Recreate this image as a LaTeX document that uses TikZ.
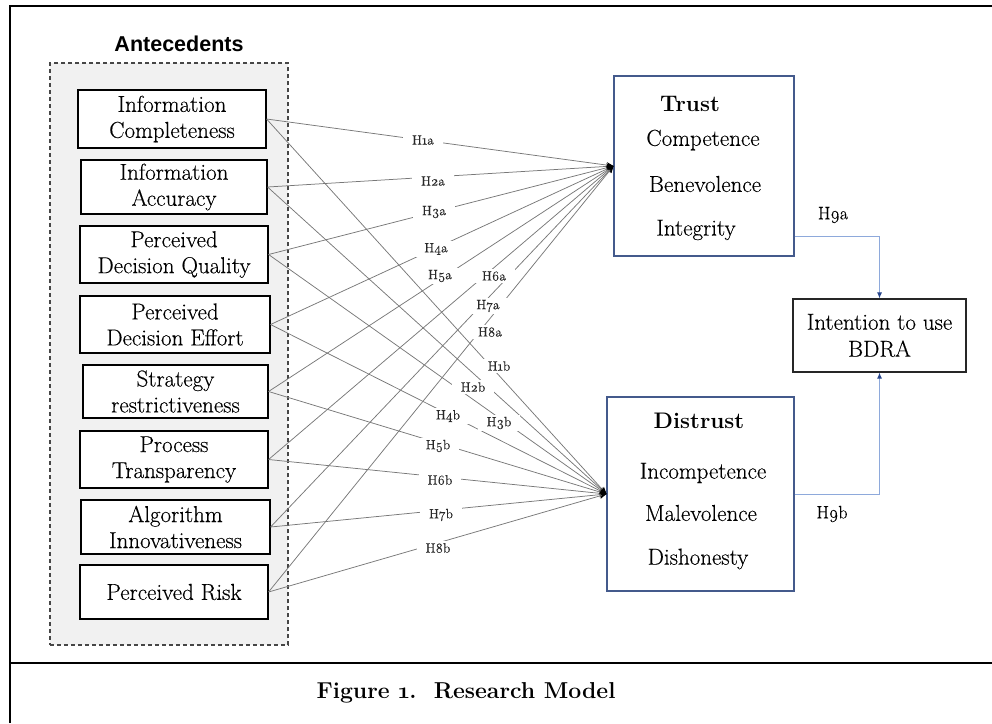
\documentclass[tikz,border=0pt]{standalone}
\usepackage{fontspec}
\setmainfont{Latin Modern Roman}[Numbers=OldStyle]
\newfontfamily\rmdark{Latin Modern Roman}[Numbers=OldStyle, FakeBold=0.3]
\newfontfamily\headsans{Liberation Sans}
\usetikzlibrary{arrows.meta,calc}
\definecolor{lineg}{RGB}{120,120,120}
\definecolor{boxblue}{RGB}{68,90,140}
\definecolor{lblue}{RGB}{142,169,219}
\definecolor{navyt}{RGB}{40,70,140}
\definecolor{dashfill}{RGB}{241,241,241}
\definecolor{dashline}{RGB}{70,70,70}
\tikzset{
  abox/.style={draw=black, line width=1.1pt, fill=white, align=center,
    font=\rmdark\fontsize{23}{26}\selectfont, inner sep=0pt},
  bigbox/.style={draw=boxblue, line width=1.1pt, fill=white, inner sep=0pt},
  conn/.style={draw=lineg, line width=0.75pt, -{Stealth[length=7pt,width=6pt,black]}},
  hlbl/.style={fill=white, inner xsep=9pt, inner ysep=2pt,
    font=\rmdark\fontsize{13.5}{15}\selectfont, text={rgb,255:red,40;green,40;blue,40}},
  intxt/.style={font=\rmdark\fontsize{23}{26}\selectfont, inner sep=0pt},
  inhead/.style={font=\bfseries\fontsize{22.5}{26}\selectfont, inner sep=0pt},
  h9/.style={draw=lblue, line width=1pt, -{Latex[length=6pt,width=5pt,navyt]}},
  h9lbl/.style={font=\rmdark\fontsize{18}{20}\selectfont, inner sep=0pt},
  frameline/.style={line width=2.4pt, black}
}
\begin{document}
\begin{tikzpicture}[x=1pt,y=-1pt]
\useasboundingbox (0,0) rectangle (992,723);
% outer frame
\draw[frameline] (10,723) -- (10,6) -- (992,6);
\draw[frameline] (10,663) -- (992,663);
\node[font=\bfseries\fontsize{23}{26}\selectfont] (cap) at (466,693) {Figure 1.\ \ Research Model};
% antecedents group
\node[font=\headsans\bfseries\fontsize{21.5}{24}\selectfont] (ante) at (179,44) {Antecedents};
\node[draw=dashline, dashed, dash pattern=on 4pt off 3pt, line width=1.1pt, fill=dashfill,
  minimum width=238pt, minimum height=582pt, inner sep=0pt] (grp) at (169,354) {};
\node[abox, minimum width=188pt, minimum height=58pt] (a1) at (172,119) {Information\\Completeness};
\node[abox, minimum width=186pt, minimum height=54pt] (a2) at (174,187) {Information\\Accuracy};
\node[abox, minimum width=188pt, minimum height=57pt] (a3) at (174,254.5) {Perceived\\Decision Quality};
\node[abox, minimum width=190pt, minimum height=57pt] (a4) at (175,324.5) {Perceived\\Decision Effort};
\node[abox, minimum width=185pt, minimum height=53pt] (a5) at (175.5,391.5) {Strategy\\restrictiveness};
\node[abox, minimum width=188pt, minimum height=57pt] (a6) at (174,459.5) {Process\\Transparency};
\node[abox, minimum width=189pt, minimum height=54pt] (a7) at (175.5,527) {Algorithm\\Innovativeness};
\node[abox, minimum width=188pt, minimum height=54pt] (a8) at (174,592) {Perceived Risk};
% trust / distrust
\node[bigbox, minimum width=180pt, minimum height=180pt] (trust) at (704,166) {};
\node[inhead] (t0) at (690,104) {Trust};
\node[intxt] (t1) at (703,140) {Competence};
\node[intxt] (t2) at (705,184) {Benevolence};
\node[intxt] (t3) at (696,230) {Integrity};
\node[bigbox, minimum width=187pt, minimum height=194pt] (dist) at (700.5,494) {};
\node[inhead] (d0) at (699,421) {Distrust};
\node[intxt] (d1) at (703,473) {Incompetence};
\node[intxt] (d2) at (701,513) {Malevolence};
\node[intxt] (d3) at (698,559) {Dishonesty};
% intention
\node[draw=black!85, line width=1.1pt, minimum width=173pt, minimum height=73pt, align=center,
  font=\rmdark\fontsize{23}{27}\selectfont, inner sep=0pt] (intent) at (879.5,335.5) {Intention to use\\BDRA};
% connectors to trust
\draw[conn] (a1.east) -- (trust.west);
\draw[conn] (a2.east) -- (trust.west);
\draw[conn] (a3.east) -- (trust.west);
\draw[conn] (a4.east) -- (trust.west);
\draw[conn] (a5.east) -- (trust.west);
\draw[conn] (a6.east) -- (trust.west);
\draw[conn] (a7.east) -- (trust.west);
\draw[conn] (a8.east) -- (trust.west);
% connectors to distrust
\draw[conn] (a1.east) -- (dist.west);
\draw[conn] (a2.east) -- (dist.west);
\draw[conn] (a3.east) -- (dist.west);
\draw[conn] (a4.east) -- (dist.west);
\draw[conn] (a5.east) -- (dist.west);
\draw[conn] (a6.east) -- (dist.west);
\draw[conn] (a7.east) -- (dist.west);
\draw[conn] (a8.east) -- (dist.west);
% labels
\node[hlbl] (h1a) at (423,140) {H1a};
\node[hlbl] (h2a) at (433,181) {H2a};
\node[hlbl] (h3a) at (434,212) {H3a};
\node[hlbl] (h4a) at (436,249) {H4a};
\node[hlbl] (h5a) at (440,276) {H5a};
\node[hlbl] (h6a) at (494,276) {H6a};
\node[hlbl] (h7a) at (488,306) {H7a};
\node[hlbl] (h8a) at (490,332) {H8a};
\node[hlbl] (h1b) at (499,366) {H1b};
\node[hlbl] (h2b) at (473,387) {H2b};
\node[hlbl] (h4b) at (448,416) {H4b};
\node[hlbl] (h3b) at (499,423) {H3b};
\node[hlbl] (h5b) at (438,446) {H5b};
\node[hlbl] (h6b) at (440,480) {H6b};
\node[hlbl] (h7b) at (441,515) {H7b};
\node[hlbl] (h8b) at (438,548) {H8b};
% H9
\coordinate (tout) at ($(trust.south east)+(0,-20)$);
\draw[h9] (tout) -| (intent.north);
\draw[h9] (dist.east) -| (intent.south);
\node[h9lbl] (h9a) at (833,215) {H9a};
\node[h9lbl] (h9b) at (832,514) {H9b};
\end{tikzpicture}
\end{document}
